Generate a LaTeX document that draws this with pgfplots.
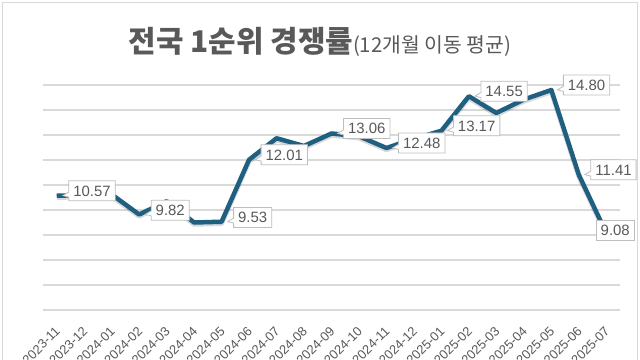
\documentclass[border=0pt]{standalone}
\usepackage{pgfplots}
\pgfplotsset{compat=1.18}
\usepackage{fontspec}
\setmainfont{Liberation Sans}
\newfontfamily\cjk{Noto Sans CJK KR}
\usetikzlibrary{shapes.callouts}
\definecolor{txtgray}{HTML}{595959}
\definecolor{gridgray}{HTML}{D9D9D9}
\definecolor{linecol}{HTML}{1F5F7F}
\begin{document}
\begin{tikzpicture}
\path[use as bounding box, fill=white] (0,0) rectangle (640bp,360bp);
\begin{scope}[overlay]
\clip (0,0) rectangle (640bp,360bp);
\begin{axis}[
  at={(43bp,50bp)}, anchor=south west,
  scale only axis, width=577bp, height=225bp,
  xmin=-0.5, xmax=20.5, ymin=6, ymax=15,
  axis line style={draw=none},
  ytick={6,...,15}, yticklabels={},
  ymajorgrids, grid style={gridgray, line width=1.2bp},
  major tick length=0pt,
  xtick={0,...,20},
  xticklabels={2023-11,2023-12,2024-01,2024-02,2024-03,2024-04,2024-05,2024-06,2024-07,2024-08,2024-09,2024-10,2024-11,2024-12,2025-01,2025-02,2025-03,2025-04,2025-05,2025-06,2025-07},
  xticklabel style={xshift=1bp, yshift=-19bp, rotate=45, anchor=east, font=\fontsize{13}{13}\selectfont, text=txtgray, inner sep=0pt},
  clip=false,
]
\addplot[black, opacity=0.15, line width=5bp, line join=round] coordinates {
(0,10.50) (1,10.53) (2,10.55) (3,9.75) (4,10.28) (5,9.43) (6,9.46) (7,11.94) (8,12.80) (9,12.49) (10,12.99)
(11,12.88) (12,12.41) (13,12.78) (14,13.10) (15,14.48) (16,13.81) (17,14.35) (18,14.73) (19,11.34) (20,9.01)};
\addplot[linecol, line width=4.5bp, line join=round] coordinates {
(0,10.57) (1,10.60) (2,10.62) (3,9.82) (4,10.35) (5,9.50) (6,9.53) (7,12.01) (8,12.87) (9,12.56) (10,13.06)
(11,12.95) (12,12.48) (13,12.85) (14,13.17) (15,14.55) (16,13.88) (17,14.42) (18,14.80) (19,11.41) (20,9.08)};
\addplot[draw=none, nodes near coords, point meta=explicit symbolic,
  nodes near coords style={shape=rectangle callout, callout relative pointer={(-6bp,-1bp)}, callout pointer width=5bp,
    anchor=pointer, fill=white, draw=gridgray!70!gray, line width=0.8bp, text=txtgray,
    font=\fontsize{15}{15}\selectfont, inner xsep=4.5bp, inner ysep=4.5bp, text height=11bp, text depth=0pt, xshift=5bp}]
 coordinates {(0,10.57)[10.57] (3,9.82)[9.82] (6,9.53)[9.53] (7,12.01)[12.01] (10,13.06)[13.06] (12,12.48)[12.48]
 (14,13.17)[13.17] (15,14.55)[14.55] (18,14.80)[14.80] (19,11.41)[11.41]};
\addplot[draw=none, nodes near coords, point meta=explicit symbolic,
  nodes near coords style={shape=rectangle, anchor=center, fill=white, draw=gridgray!70!gray, line width=0.8bp, text=txtgray,
    font=\fontsize{15}{15}\selectfont, inner xsep=4.5bp, inner ysep=4.5bp, text height=11bp, text depth=0pt, xshift=9bp, yshift=3bp}]
 coordinates {(20,9.08)[9.08]};
\end{axis}
\node[anchor=base, text=txtgray, inner sep=0pt] at (320bp,307bp)
  {{\cjk\bfseries\fontsize{30}{30}\selectfont 전국 1순위 경쟁률}{\cjk\fontsize{20.5}{20.5}\selectfont (12개월 이동 평균)}};
\draw[gridgray, line width=1.5bp] (2.5bp,-5bp) -- (2.5bp,357.5bp) -- (637.5bp,357.5bp) -- (637.5bp,-5bp);
\end{scope}
\end{tikzpicture}
\end{document}
